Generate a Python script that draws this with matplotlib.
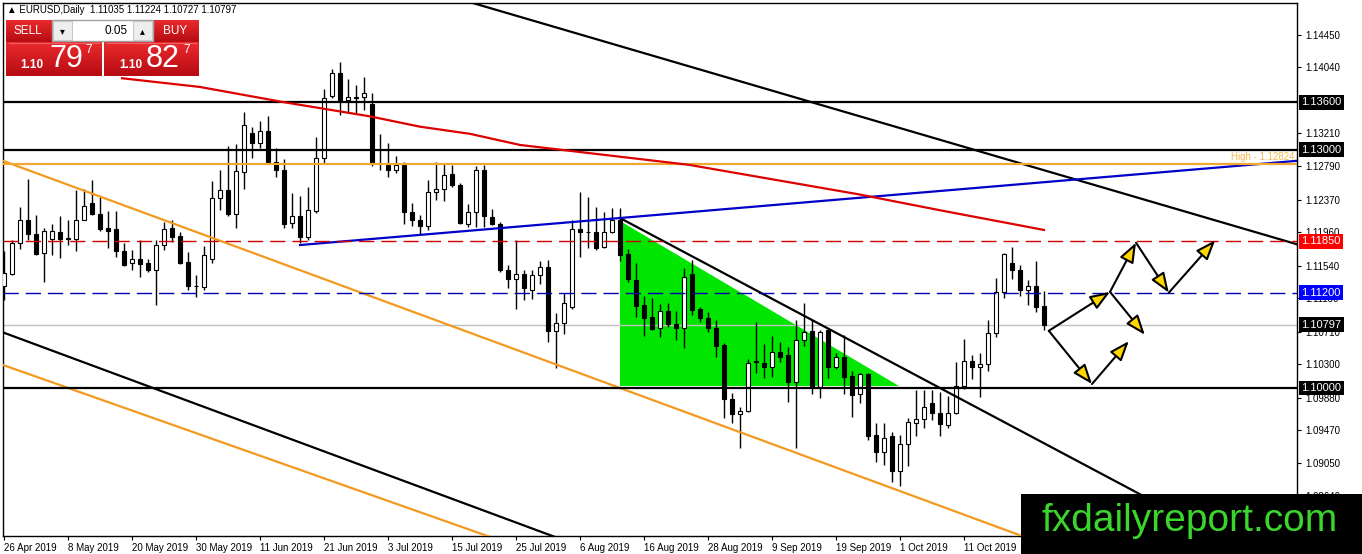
import matplotlib
matplotlib.use("Agg")
import matplotlib.pyplot as plt
import matplotlib.transforms as mtransforms
from matplotlib.patches import Rectangle
from matplotlib.colors import LinearSegmentedColormap
import numpy as np
import pandas as pd

plt.rcParams['font.family'] = ['Liberation Sans', 'DejaVu Sans']

W, H = 1362, 554

# --- daily EURUSD candles, 26 Apr 2019 .. 25 Oct 2019 ---
dates = pd.bdate_range('2019-04-26', periods=131)
opens = [1.1129, 1.1144, 1.1182, 1.1212, 1.1194, 1.1170, 1.1188, 1.1196, 1.1188, 1.1188,
         1.1212, 1.1233, 1.1219, 1.1201, 1.1200, 1.1172, 1.1157, 1.1163, 1.1157, 1.1148,
         1.1180, 1.1202, 1.1191, 1.1159, 1.1128, 1.1127, 1.1162, 1.1239, 1.1249, 1.1219,
         1.1272, 1.1321, 1.1309, 1.1324, 1.1285, 1.1274, 1.1208, 1.1217, 1.1190, 1.1223,
         1.1290, 1.1368, 1.1396, 1.1363, 1.1365, 1.1367, 1.1358, 1.1283, 1.1281, 1.1275,
         1.1281, 1.1222, 1.1212, 1.1204, 1.1247, 1.1251, 1.1269, 1.1256, 1.1207, 1.1221,
         1.1274, 1.1215, 1.1207, 1.1149, 1.1137, 1.1144, 1.1124, 1.1142, 1.1152, 1.1072,
         1.1082, 1.1102, 1.1200, 1.1197, 1.1196, 1.1177, 1.1196, 1.1211, 1.1169, 1.1136,
         1.1104, 1.1090, 1.1075, 1.1097, 1.1081, 1.1076, 1.1143, 1.1099, 1.1088, 1.1075,
         1.1054, 1.0986, 1.0967, 1.0971, 1.1033, 1.1032, 1.1026, 1.1045, 1.1042, 1.1007,
         1.1061, 1.1072, 1.1000, 1.1073, 1.1027, 1.1039, 1.1015, 1.0992, 1.1017, 1.0941,
         1.0919, 1.0940, 1.0895, 1.0930, 1.0956, 1.0961, 1.0981, 1.0969, 1.0954, 1.0969,
         1.1003, 1.1034, 1.1026, 1.1030, 1.1069, 1.1121, 1.1158, 1.1148, 1.1123, 1.1129,
         1.11035]
highs = [1.1172, 1.1186, 1.1228, 1.1263, 1.1218, 1.1202, 1.1207, 1.1217, 1.1212, 1.1249,
         1.1251, 1.1262, 1.1240, 1.1223, 1.1223, 1.1183, 1.1174, 1.1186, 1.1163, 1.1186,
         1.1209, 1.1212, 1.1196, 1.1171, 1.1142, 1.1179, 1.1261, 1.1275, 1.1305, 1.1307,
         1.1347, 1.1328, 1.1336, 1.1342, 1.1302, 1.1288, 1.1245, 1.1242, 1.1253, 1.1316,
         1.1376, 1.1401, 1.1410, 1.1389, 1.1382, 1.1391, 1.1371, 1.1320, 1.1309, 1.1292,
         1.1285, 1.1233, 1.1218, 1.1262, 1.1284, 1.1283, 1.1281, 1.1258, 1.1232, 1.1280,
         1.1281, 1.1225, 1.1209, 1.1155, 1.1186, 1.1149, 1.1149, 1.1160, 1.1161, 1.1094,
         1.1120, 1.1212, 1.1247, 1.1240, 1.1228, 1.1221, 1.1227, 1.1226, 1.1175, 1.1158,
         1.1116, 1.1113, 1.1106, 1.1107, 1.1097, 1.1151, 1.1161, 1.1102, 1.1096, 1.1086,
         1.1057, 1.0994, 1.0976, 1.1036, 1.1083, 1.1055, 1.1066, 1.1058, 1.1052, 1.1086,
         1.1107, 1.1086, 1.1073, 1.1074, 1.1044, 1.1067, 1.1022, 1.1019, 1.1019, 1.0956,
         1.0956, 1.0944, 1.0941, 1.0962, 1.0997, 1.0997, 1.0997, 1.0995, 1.0990, 1.1033,
         1.1062, 1.1041, 1.1044, 1.1085, 1.1138, 1.1170, 1.1177, 1.1155, 1.1136, 1.1160,
         1.11224]
lows = [1.1111, 1.1142, 1.1175, 1.1186, 1.1167, 1.1133, 1.1167, 1.1164, 1.1180, 1.1172,
        1.1211, 1.1218, 1.1198, 1.1176, 1.1165, 1.1153, 1.1149, 1.1140, 1.1146, 1.1104,
        1.1174, 1.1184, 1.1156, 1.1123, 1.1114, 1.1123, 1.1158, 1.1224, 1.1217, 1.1201,
        1.1250, 1.1289, 1.1302, 1.1283, 1.1266, 1.1201, 1.1202, 1.1182, 1.1186, 1.1220,
        1.1283, 1.1365, 1.1344, 1.1348, 1.1346, 1.1350, 1.1279, 1.1274, 1.1266, 1.1271,
        1.1206, 1.1204, 1.1193, 1.1199, 1.1237, 1.1236, 1.1253, 1.1207, 1.1203, 1.1203,
        1.1203, 1.1205, 1.1146, 1.1126, 1.1100, 1.1111, 1.1112, 1.1131, 1.1058, 1.1025,
        1.1068, 1.1100, 1.1165, 1.1176, 1.1174, 1.1176, 1.1195, 1.1160, 1.1133, 1.1090,
        1.1065, 1.1073, 1.1064, 1.1077, 1.1061, 1.1050, 1.1092, 1.1083, 1.1071, 1.1039,
        1.0962, 1.0956, 1.0924, 1.0970, 1.1019, 1.1013, 1.1014, 1.1033, 1.0983, 1.0925,
        1.1053, 1.0992, 1.0988, 1.1012, 1.1024, 1.0993, 1.0964, 1.0981, 1.0935, 1.0907,
        1.0903, 1.0882, 1.0877, 1.0902, 1.0939, 1.0950, 1.0960, 1.0939, 1.0950, 1.0967,
        1.0999, 1.1011, 1.0989, 1.1022, 1.1064, 1.1113, 1.1137, 1.1116, 1.1104, 1.1096,
        1.10727]
closes = [1.1145, 1.1183, 1.1212, 1.1194, 1.1169, 1.1198, 1.1198, 1.1188, 1.1189, 1.1212,
          1.1229, 1.1219, 1.1200, 1.1198, 1.1172, 1.1155, 1.1163, 1.1156, 1.1148, 1.1180,
          1.1200, 1.1190, 1.1157, 1.1128, 1.1128, 1.1167, 1.1239, 1.1249, 1.1219, 1.1273,
          1.1331, 1.1309, 1.1324, 1.1284, 1.1274, 1.1206, 1.1217, 1.1190, 1.1224, 1.1289,
          1.1365, 1.1396, 1.1363, 1.1367, 1.1366, 1.1372, 1.1283, 1.1283, 1.1275, 1.1281,
          1.1222, 1.1211, 1.1204, 1.1247, 1.1251, 1.1268, 1.1255, 1.1208, 1.1221, 1.1274,
          1.1217, 1.1206, 1.1149, 1.1137, 1.1144, 1.1126, 1.1142, 1.1152, 1.1072, 1.1082,
          1.1107, 1.1200, 1.1197, 1.1196, 1.1176, 1.1196, 1.1211, 1.1167, 1.1137, 1.1103,
          1.1088, 1.1074, 1.1097, 1.1081, 1.1076, 1.1140, 1.1098, 1.1088, 1.1075, 1.1053,
          1.0986, 1.0967, 1.0971, 1.1032, 1.1033, 1.1026, 1.1045, 1.1039, 1.1008, 1.1061,
          1.1071, 1.1000, 1.1070, 1.1027, 1.1039, 1.1014, 1.0991, 1.1017, 1.0940, 1.0919,
          1.0937, 1.0895, 1.0930, 1.0957, 1.0961, 1.0976, 1.0969, 1.0955, 1.0969, 1.1003,
          1.1034, 1.1026, 1.1030, 1.1069, 1.1121, 1.1169, 1.1148, 1.1123, 1.1129, 1.1102,
          1.10797]

# moving average (read at a few bars)
ma_idx = [14.75, 24.5, 34.9, 45.75, 52, 58.25, 64.5, 85.6, 106.75, 117.4, 130]
ma_val = [1.1390, 1.1379, 1.1360, 1.1342, 1.1329, 1.1320, 1.1306, 1.1281, 1.1244, 1.1223, 1.1199]

# horizontal levels
black_levels = [1.1360, 1.1300, 1.1000]
orange_level = 1.12824
red_dash_level = 1.1185
blue_dash_level = 1.1120
bid_level = 1.10797

# trend lines: (bar, price) anchor pairs
upper_orange = [(-0.125, 1.1286), (77, 1.1000)]
lower_orange = [(-0.125, 1.1029), (60.9, 1.0812)]
lower_black = [(-0.125, 1.1070), (69, 1.0812)]
top_black = [(58.5, 1.1485), (161.6, 1.1181)]
blue_line = [(37, 1.1180), (161.6, 1.1286)]
down_black = [(77, 1.1214), (117, 1.1000)]
triangle = [(77, 1.1210), (77, 1.1002), (111.9, 1.1002)]

# projected path arrows
arrows = [((130.6, 1.1072), (136.0, 1.1005)),
          ((136.0, 1.1005), (140.6, 1.1059)),
          ((130.6, 1.1072), (138.25, 1.1121)),
          ((138.25, 1.1121), (141.5, 1.1183)),
          ((138.25, 1.1121), (142.6, 1.1067)),
          ((141.5, 1.1183), (145.6, 1.1120)),
          ((145.6, 1.1120), (151.4, 1.1186))]

# 1.13620 sits under the 1.13600 box on the reference, so it is left out
yticks = [1.14450, 1.14040, 1.13210, 1.12790, 1.12370, 1.11960, 1.11540,
          1.11130, 1.10710, 1.10300, 1.09880, 1.09470, 1.09050, 1.08640]
box_labels = [(1.13600, 'black'), (1.13000, 'black'), (1.11850, '#ff0000'),
              (1.11200, '#0000ff'), (1.10797, 'black'), (1.10000, 'black')]

fig = plt.figure(figsize=(W / 100, H / 100), dpi=100)
ax = fig.add_axes([3 / W, 1 - 536 / H, 1294 / W, 533 / H])
xmin, xmax = -0.125, 161.625
ax.set_xlim(xmin, xmax)
ax.set_ylim(1.081367, 1.148472)

# candles
o, hi, lo, c = map(np.array, (opens, highs, lows, closes))
idx = np.arange(len(o))
up = c >= o
ax.vlines(idx, lo, hi, color='black', lw=1, zorder=3)
body_lo = np.minimum(o, c)
body_h = np.maximum(np.abs(c - o), 0.00006)
ax.bar(idx, body_h, bottom=body_lo, width=0.62,
       color=np.where(up, 'white', 'black'), edgecolor='black', lw=0.8, zorder=4)

# green triangle behind candles
ax.fill([p[0] for p in triangle], [p[1] for p in triangle], color='#00e600', lw=0, zorder=1)


def extended(p0, p1, x0, x1):
    k = (p1[1] - p0[1]) / (p1[0] - p0[0])
    return [x0, x1], [p0[1] + k * (x0 - p0[0]), p0[1] + k * (x1 - p0[0])]


for pts, col, lo_x in [(upper_orange, '#f39a1e', xmin - 1), (lower_orange, '#f39a1e', xmin - 1),
                       (lower_black, 'black', xmin - 1), (top_black, 'black', 50),
                       (down_black, 'black', 77), (blue_line, '#0000c8', 37)]:
    xs, ys = extended(pts[0], pts[1], lo_x, xmax + 5)
    ax.plot(xs, ys, color=col, lw=1.6, zorder=5)

for lv in black_levels:
    ax.axhline(lv, color='black', lw=1.6, zorder=5)
ax.axhline(orange_level, color='#f0a830', lw=1.6, zorder=5)
ax.axhline(red_dash_level, color='#d00000', lw=1, ls=(0, (11, 5)), zorder=5)
ax.axhline(blue_dash_level, color='#0000b0', lw=1, ls=(0, (11, 5)), zorder=5)
ax.axhline(bid_level, color='#c0c0c0', lw=1, zorder=2)
ax.plot(ma_idx, ma_val, color='#dd0000', lw=1.6, zorder=6)

ax.text(xmax - 0.3, orange_level + 0.0002, 'High - 1.12824', color='#f5b850',
        fontsize=7, ha='right', va='bottom', zorder=4, clip_on=True)

for (x0, y0), (x1, y1) in arrows:
    ax.annotate('', xy=(x1, y1), xytext=(x0, y0),
                arrowprops=dict(arrowstyle='-|>,head_length=1.0,head_width=0.38',
                                mutation_scale=12, fc='#ffd700', ec='black', lw=1.5,
                                shrinkA=0, shrinkB=0), zorder=7)

# axes styling
for s in ax.spines.values():
    s.set_color('black')
    s.set_linewidth(1)
ax.yaxis.tick_right()
ax.set_yticks(yticks)
ax.set_yticklabels([f'{t:.5f}' for t in yticks])
ax.tick_params(axis='y', length=3, pad=3, labelsize=7, colors='black')
xt = idx[::8]
ax.set_xticks(xt)
ax.set_xticklabels([f'{d.day} {d:%b %Y}' for d in dates[::8]])
ax.tick_params(axis='x', length=3, pad=2, labelsize=7)
plt.setp(ax.get_xticklabels(), ha='left')

blend = mtransforms.blended_transform_factory(ax.transAxes, ax.transData)
for lv, col in box_labels:
    ax.text(1.0035, lv, f'{lv:.5f}', transform=blend, color='white', fontsize=8,
            ha='left', va='center', clip_on=False, zorder=8,
            bbox=dict(boxstyle='square,pad=0.22', fc=col, ec='none'))

# overlay for trade panel, title and watermark (pixel coordinates)
ov = fig.add_axes([0, 0, 1, 1], zorder=10)
ov.patch.set_alpha(0)
ov.axis('off')

grad = np.linspace(0, 1, 50).reshape(-1, 1)
red_cmap = LinearSegmentedColormap.from_list('btn', ['#ea2a2e', '#b60c12'])
for x0, x1, y0, y1 in [(6, 52, 20, 42), (153, 199, 20, 42), (6, 102, 42, 76), (104, 199, 42, 76)]:
    ov.imshow(grad, extent=(x0, x1, y1, y0), origin='upper', cmap=red_cmap, aspect='auto')
ov.plot([9, 99], [42.5, 42.5], color='#f06060', lw=0.8)
ov.plot([107, 196], [42.5, 42.5], color='#f06060', lw=0.8)
ov.add_patch(Rectangle((52, 20), 101, 21, fc='white', ec='#a0a0a0', lw=1))
ov.add_patch(Rectangle((53, 21), 19, 19, fc='#eeeeee', ec='#c8c8c8', lw=0.8))
ov.add_patch(Rectangle((133, 21), 19, 19, fc='#eeeeee', ec='#c8c8c8', lw=0.8))
ov.text(62.5, 31, '▾', fontsize=7, ha='center', va='center', family='DejaVu Sans')
ov.text(142.5, 31, '▴', fontsize=7, ha='center', va='center', family='DejaVu Sans')
ov.text(128, 31, '0.05', fontsize=8.5, ha='right', va='center')
ov.text(28, 31, 'SELL', fontsize=8.5, color='white', ha='center', va='center')
ov.text(175, 31, 'BUY', fontsize=8.5, color='white', ha='center', va='center')
ov.text(32, 65, '1.10', fontsize=8.5, color='white', weight='bold', ha='center', va='center')
ov.text(66, 59, '79', fontsize=22, color='white', ha='center', va='center')
ov.text(89, 50, '7', fontsize=8.5, color='white', ha='center', va='center')
ov.text(131, 65, '1.10', fontsize=8.5, color='white', weight='bold', ha='center', va='center')
ov.text(163, 59, '82', fontsize=22, color='white', ha='center', va='center')
ov.text(187, 50, '7', fontsize=8.5, color='white', ha='center', va='center')
ov.text(7, 10, '▲ EURUSD,Daily  1.11035 1.11224 1.10727 1.10797', fontsize=7,
        ha='left', va='center')

ov.add_patch(Rectangle((1021, 494), 341, 60, fc='black', ec='none'))
ov.text(1190, 521, 'fxdailyreport.com', color='#3bd62c', fontsize=28,
        ha='center', va='center', family='Liberation Sans')
ov.set_xlim(0, W)
ov.set_ylim(H, 0)

fig.savefig('out.png', dpi=100, facecolor='white')
